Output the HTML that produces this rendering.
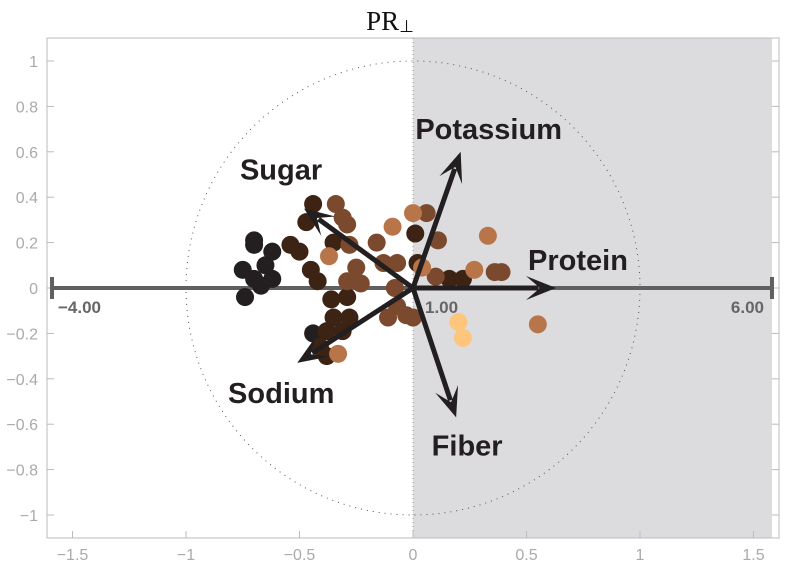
<!DOCTYPE html>
<html><head><meta charset="utf-8"><style>body{margin:0;background:#fff}svg{display:block}</style></head>
<body>
<svg id="chart" width="787" height="578" xmlns="http://www.w3.org/2000/svg" font-family="Liberation Sans, sans-serif">
<text x="390" y="30" text-anchor="middle" font-family="Liberation Serif, serif" font-size="27" fill="#111">PR<tspan font-size="17" dy="2">⊥</tspan></text>
<g id="plot"></g>
</svg>
<script>
const xTicks = [-1.5, -1, -0.5, 0, 0.5, 1, 1.5];
const xTickLabels = ["−1.5", "−1", "−0.5", "0", "0.5", "1", "1.5"];
const yTicks = [-1, -0.8, -0.6, -0.4, -0.2, 0, 0.2, 0.4, 0.6, 0.8, 1];
const yTickLabels = ["−1", "−0.8", "−0.6", "−0.4", "−0.2", "0", "0.2", "0.4", "0.6", "0.8", "1"];
const pointX = [-0.70,-0.70,-0.62,-0.65,-0.75,-0.70,-0.62,-0.67,-0.74,-0.44,
 -0.54,-0.50,-0.44,-0.47,-0.35,-0.45,-0.42,-0.36,-0.29,-0.28,-0.35,-0.38,-0.31,-0.41,-0.38,0.01,0.02,0.16,0.22,
 -0.34,-0.31,-0.29,-0.28,-0.25,-0.23,-0.29,-0.16,-0.13,-0.07,-0.08,-0.11,-0.03,0.06,0.11,0.10,0.36,0.39,-0.07,0.00,
 -0.37,-0.33,-0.09,0.00,0.33,0.04,0.27,0.55,
 0.20,0.22];
const pointY = [0.21,0.19,0.16,0.10,0.08,0.04,0.04,0.01,-0.04,-0.20,
 0.19,0.16,0.37,0.29,0.20,0.08,0.03,-0.05,-0.04,-0.13,-0.13,-0.19,-0.19,-0.26,-0.30,0.24,0.11,0.04,0.04,
 0.37,0.31,0.28,0.19,0.09,0.02,0.03,0.20,0.11,0.11,0.00,-0.13,-0.12,0.33,0.21,0.05,0.07,0.07,-0.08,-0.13,
 0.14,-0.29,0.27,0.33,0.23,0.09,0.08,-0.16,
 -0.15,-0.22];
const pointShade = ["k","k","k","k","k","k","k","k","k","k",
 "d","d","d","d","d","d","d","d","d","d","d","d","d","d","d","d","d","d","d",
 "m","m","m","m","m","m","m","m","m","m","m","m","m","m","m","m","m","m","m","m",
 "l","l","l","l","l","l","l","l",
 "p","p"];
const arrowNames = ["Sugar","Potassium","Protein","Fiber","Sodium"];
const arrowX = [-0.48, 0.21, 0.63, 0.19, -0.51];
const arrowY = [0.35, 0.60, 0.00, -0.57, -0.33];
const axisEndLabels = ["−4.00", "1.00", "6.00"];

const NS = "http://www.w3.org/2000/svg";
const X0 = 413, Y0 = 288, S = 227;
const sx = v => X0 + v * S;
const sy = v => Y0 - v * S;
const g = document.getElementById('plot');
function mk(tag, attrs, parent) {
  const e = document.createElementNS(NS, tag);
  for (const k in attrs) e.setAttribute(k, attrs[k]);
  (parent || g).appendChild(e);
  return e;
}
const colors = {k:"#231f20", d:"#3d2314", m:"#7b4a2e", l:"#b8754a", p:"#fec57c"};

let e = mk('rect', {x: sx(0), y: 38, width: 772 - sx(0), height: 500, fill: "#dcdcde"});


e = mk('rect', {x: 47, y: 38, width: 732, height: 500, fill: "none", stroke: "#bbb", "stroke-width": 1});


e = mk('line', {x1: sx(0), y1: 38, x2: sx(0), y2: 538, stroke: "#999", "stroke-width": 1, "stroke-dasharray": "1 3"});


e = mk('circle', {cx: sx(0), cy: sy(0), r: S, fill: "none", stroke: "#555", "stroke-width": 1, "stroke-dasharray": "1 5"});



xTicks.forEach((t, i) => {
  const tk = mk('line', {x1: sx(t), y1: 538, x2: sx(t), y2: 531, stroke: "#bbb"});
  
  
  const tl = mk('text', {x: sx(t), y: 560, "text-anchor": "middle", "font-size": 16, fill: "#aaa"});
  tl.textContent = xTickLabels[i];
  
  
});
yTicks.forEach((t, i) => {
  const tk = mk('line', {x1: 47, y1: sy(t), x2: 54, y2: sy(t), stroke: "#bbb"});
  
  
  const tr = mk('line', {x1: 779, y1: sy(t), x2: 772, y2: sy(t), stroke: "#bbb"});
  
  
  const tl = mk('text', {x: 38, y: sy(t) + 6, "text-anchor": "end", "font-size": 16, fill: "#aaa"});
  tl.textContent = yTickLabels[i];
  
  
});

e = mk('line', {x1: 52, y1: sy(0), x2: 772, y2: sy(0), stroke: "#606060", "stroke-width": 4});


[52, 772].forEach(x => {
  const c = mk('line', {x1: x, y1: sy(0) - 11, x2: x, y2: sy(0) + 11, stroke: "#606060", "stroke-width": 4});
  
  
});
const endPos = [[58, "start"], [425, "start"], [764, "end"]];
axisEndLabels.forEach((s, i) => {
  const t = mk('text', {x: endPos[i][0], y: sy(0) + 25, "text-anchor": endPos[i][1], "font-size": 17, "font-weight": "bold", fill: "#666"});
  t.textContent = s;
  
  
});

pointX.forEach((v, i) => {
  const c = mk('circle', {cx: sx(v), cy: sy(pointY[i]), r: 9, fill: colors[pointShade[i]]});
  
  
});

const labelOff = {Sugar: [-23, -29], Potassium: [28, -13], Protein: [22, -18], Fiber: [11, 38], Sodium: [-16, 40]};
arrowNames.forEach((n, i) => {
  const x2 = sx(arrowX[i]), y2 = sy(arrowY[i]);
  const dx = x2 - X0, dy = y2 - Y0, L = Math.hypot(dx, dy), ux = dx / L, uy = dy / L;
  const bx = x2 - ux * 18, by = y2 - uy * 18;
  const l = mk('line', {x1: X0, y1: Y0, x2: bx, y2: by, stroke: "#231f20", "stroke-width": 5});
  
  
  const px = -uy, py = ux;
  const h = mk('polygon', {points: `${x2},${y2} ${x2 - ux * 30 + px * 12},${y2 - uy * 30 + py * 12} ${bx + ux * 2},${by + uy * 2} ${x2 - ux * 30 - px * 12},${y2 - uy * 30 - py * 12}`, fill: "#231f20"});
  
  
  const o = labelOff[n];
  const t = mk('text', {x: x2 + o[0], y: y2 + o[1], "text-anchor": "middle", "font-size": 29, "font-weight": "bold", fill: "#231f20"});
  t.textContent = n;
  
  
});
</script>
</body></html>
